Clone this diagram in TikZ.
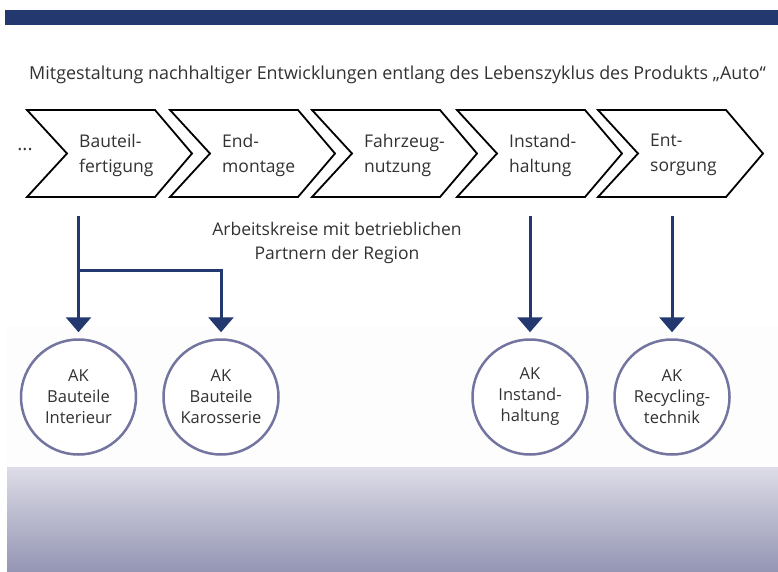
\documentclass[tikz,border=0pt]{standalone}
\usepackage{fontspec}
\setmainfont{Open Sans}
\usetikzlibrary{arrows.meta}

\definecolor{navy}{RGB}{34,56,110}
\definecolor{ringblue}{RGB}{115,117,160}
\definecolor{txtgray}{RGB}{50,50,50}
\definecolor{bandtop}{RGB}{221,220,231}
\definecolor{bandbot}{RGB}{148,149,180}
\definecolor{paleband}{RGB}{253,253,254}

\tikzset{
  chevron/.style={draw=black, line width=1.8pt, line join=miter, fill=white},
  steptext/.style={anchor=west, align=left, text=txtgray, inner sep=0pt,
    font=\fontsize{17.5}{25}\selectfont},
  akcircle/.style={circle, draw=ringblue, line width=2.5pt, fill=white,
    minimum size=115pt, inner sep=0pt, align=center, text=txtgray,
    font=\fontsize{16.5}{21}\selectfont},
  akarrow/.style={draw=navy, line width=3pt,
    -{Triangle[width=25pt,length=15pt]}, shorten >=6pt},
}

\begin{document}
\begin{tikzpicture}[x=1pt, y=-1pt]
\useasboundingbox (0,0) rectangle (778,572);

% backgrounds
\fill[navy] (5,10) rectangle (778,25);
\fill[paleband] (7,326) rectangle (778,467);
\shade[top color=bandtop, bottom color=bandbot] (7,467) rectangle (778,572);

\node[anchor=base, text=txtgray, font=\fontsize{17.9}{21}\selectfont] (title) at (397.5,80)
  {Mitgestaltung nachhaltiger Entwicklungen entlang des Lebenszyklus des Produkts „Auto“};

% process chevrons
\node[text=txtgray, font=\fontsize{19}{21}\selectfont] (dots) at (25,150) {...};
\foreach \x/\nm/\txt in {27/bf/{Bauteil-\\fertigung}, 170/em/{End-\\montage},
    312/fn/{Fahrzeug-\\nutzung}, 457/ih/{Instand-\\haltung}, 598/es/{Ent-\\sorgung}} {
  \draw[chevron] (\x,110) -- ++(128,0) -- ++(37,43.5) -- ++(-37,43.5) -- ++(-128,0) -- ++(40,-43.5) -- cycle;
  \node[steptext] (\nm) at (\x+52,155) {\txt};
}

\node[align=center, text=txtgray, font=\fontsize{17.5}{24}\selectfont] (partner) at (337,243)
  {Arbeitskreise mit betrieblichen\\Partnern der Region};

% working groups
\node[akcircle] (akint) at (78.5,397) {AK\\Bauteile\\Interieur};
\node[akcircle] (akkar) at (221,397) {AK\\Bauteile\\Karosserie};
\node[akcircle] (akinst) at (530,397) {AK\\Instand-\\haltung};
\node[akcircle] (akrec) at (672,397) {AK\\Recycling-\\technik};

\coordinate (s1) at (78.5,216);
\coordinate (s2) at (78.5,270);
\coordinate (s3) at (530,216);
\coordinate (s4) at (672,216);

\draw[akarrow] (s1) -- (akint.north);
\draw[akarrow] (s2) -| (akkar.north);
\draw[akarrow] (s3) -- (akinst.north);
\draw[akarrow] (s4) -- (akrec.north);
\end{tikzpicture}
\end{document}
